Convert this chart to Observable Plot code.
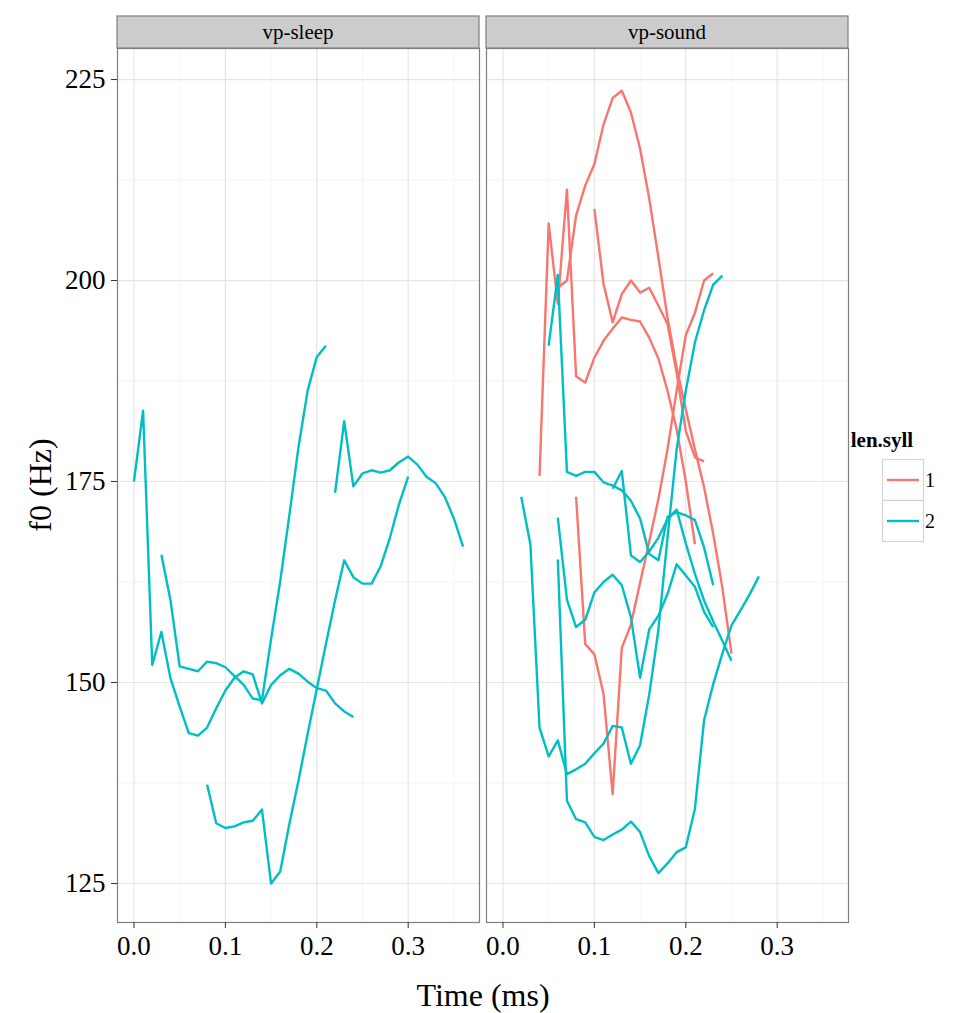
<!DOCTYPE html>
<html><head><meta charset="utf-8">
<script src="https://cdn.jsdelivr.net/npm/d3@7"></script>
<script src="https://cdn.jsdelivr.net/npm/@observablehq/plot@0.6"></script>
<style>
html,body{margin:0;padding:0;background:#fff;}
#chart{position:relative;width:955px;height:1013px;}
</style></head><body><div id="chart"></div>
<script>
// ---- categories / scales ----
const words = ["vp-sleep", "vp-sound"];
const syllables = ["1", "2"];
const colors = ["#F8766D", "#00BFC4"];
const xTicks = [0, 0.1, 0.2, 0.3];
const xMinor = [0.05, 0.15, 0.25, 0.35];
const yTicks = [125, 150, 175, 200, 225];
const yMinor = [137.5, 162.5, 187.5, 212.5];
const step = 0.01; // sampling interval (s)

// ---- f0 contours (Hz), one value per 0.01 s from the start time ----
// vp-sleep, len.syll 2
const sleepA = [175.0, 183.8, 152.2, 156.3, 150.5, 147.0, 143.7, 143.4, 144.4, 146.8, 149.0, 150.6, 151.4, 151.0, 147.4, 149.7, 150.9, 151.7, 151.1, 150.1, 149.3, 149.0, 147.4, 146.4, 145.7];
const sleepB = [165.9, 160.2, 152.0, 151.7, 151.4, 152.6, 152.4, 151.9, 150.8, 149.7, 148.0, 147.8, 155.4, 162.6, 170.8, 179.3, 186.3, 190.5, 191.9];
const sleepC = [137.3, 132.5, 131.9, 132.1, 132.6, 132.8, 134.2, 125.0, 126.5, 132.4, 137.8, 143.6, 149.2, 154.8, 160.2, 165.2, 163.1, 162.3, 162.3, 164.5, 168.0, 172.2, 175.6];
const sleepD = [173.6, 182.5, 174.4, 176.0, 176.4, 176.1, 176.4, 177.4, 178.1, 177.1, 175.6, 174.8, 173.1, 170.4, 166.9];
// vp-sound, len.syll 1
const soundP = [175.7, 207.1, 197.1, 211.3, 188.1, 187.3, 190.4, 192.5, 194.0, 195.4, 195.1, 194.9, 192.9, 190.3, 186.3, 181.5, 175.0, 167.2];
const soundQ = [199.1, 200.0, 208.1, 211.8, 214.5, 219.4, 222.7, 223.6, 220.9, 216.4, 210.2, 202.9, 195.4, 189.2, 184.0, 179.0, 174.3, 168.5, 161.8, 153.6];
const soundS = [208.9, 199.6, 194.8, 198.3, 200.0, 198.5, 199.1, 196.9, 194.6, 188.5, 181.3, 178.0, 177.5];
const soundR = [173.1, 154.8, 153.5, 148.6, 136.1, 154.3, 157.2, 162.4, 167.5, 172.8, 179.0, 186.3, 193.2, 196.0, 200.0, 200.9];
// vp-sound, len.syll 2
const soundC1 = [173.1, 167.2, 144.4, 140.8, 142.8, 138.6, 139.2, 139.9, 141.2, 142.4, 144.6, 144.4, 139.9, 142.2, 148.5, 156.5, 168.0, 179.0, 186.3, 192.3, 196.3, 199.5, 200.6];
const soundC2 = [170.5, 160.3, 156.9, 157.8, 161.2, 162.5, 163.4, 162.1, 158.1, 150.6, 156.6, 158.3, 161.0, 164.7, 163.3, 161.9, 158.8, 156.9];
const soundC3 = [191.9, 200.7, 176.2, 175.7, 176.2, 176.2, 174.9, 174.5, 173.9, 172.6, 170.4, 166.0, 165.2, 170.6, 171.2, 170.8, 170.2, 166.8, 162.1];
const soundC4 = [174.1, 176.3, 165.8, 165.0, 166.3, 168.0, 170.3, 171.5, 167.3, 163.5, 160.2, 157.6, 155.2, 152.7];
const soundC5 = [165.3, 135.3, 133.0, 132.6, 130.8, 130.4, 131.1, 131.7, 132.7, 131.4, 128.4, 126.3, 127.5, 128.9, 129.5, 134.3, 145.3, 149.8, 153.6, 157.1, 159.0, 161.0, 163.2];

// [facet, len.syll, start time, values]
const contours = [
  ["vp-sleep", "2", 0.00, sleepA],
  ["vp-sleep", "2", 0.03, sleepB],
  ["vp-sleep", "2", 0.08, sleepC],
  ["vp-sleep", "2", 0.22, sleepD],
  ["vp-sound", "1", 0.04, soundP],
  ["vp-sound", "1", 0.06, soundQ],
  ["vp-sound", "1", 0.10, soundS],
  ["vp-sound", "1", 0.08, soundR],
  ["vp-sound", "2", 0.02, soundC1],
  ["vp-sound", "2", 0.06, soundC2],
  ["vp-sound", "2", 0.05, soundC3],
  ["vp-sound", "2", 0.12, soundC4],
  ["vp-sound", "2", 0.06, soundC5]
];

const rows = [];
contours.forEach(([word, syll, t0, values], k) => {
  values.forEach((f0, i) => rows.push({id: k, word, syll, time: +(t0 + i * step).toFixed(2), f0}));
});

const FONT = "Liberation Serif, Times New Roman, serif";

const plot = Plot.plot({
  width: 955, height: 1013,
  marginLeft: 117, marginRight: 107, marginTop: 48, marginBottom: 91,
  style: {fontFamily: FONT, background: "#fff", overflow: "visible"},
  fx: {domain: words, padding: 0.019, axis: null, label: null},
  x: {domain: [-0.018, 0.378], label: null},
  y: {domain: [120.15, 228.86], label: null},
  color: {domain: syllables, range: colors},
  marks: [
    Plot.gridX(xMinor, {stroke: "#F5F5F5", strokeOpacity: 1, strokeWidth: 1}),
    Plot.gridY(yMinor, {stroke: "#F5F5F5", strokeOpacity: 1, strokeWidth: 1}),
    Plot.gridX(xTicks, {stroke: "#E5E5E5", strokeOpacity: 1, strokeWidth: 1.2}),
    Plot.gridY(yTicks, {stroke: "#E5E5E5", strokeOpacity: 1, strokeWidth: 1.2}),
    Plot.line(rows, {fx: "word", x: "time", y: "f0", z: "id", stroke: "syll", strokeWidth: 2.4, strokeLinecap: "butt"}),
    Plot.frame({stroke: "#7F7F7F", strokeWidth: 1.2}),
    Plot.axisX(xTicks, {tickFormat: d3.format(".1f"), tickSize: 6, tickPadding: 7, fontSize: 27, label: null, stroke: "#333"}),
    Plot.axisY(yTicks, {tickSize: 6, tickPadding: 6, fontSize: 27, label: null, stroke: "#333"})
  ]
});

document.getElementById("chart").appendChild(plot);

// ---- strips, axis titles, legend ----
const svg = d3.select(plot);
const fx = plot.scale("fx");
const bw = fx.bandwidth;
const strips = svg.append("g");
words.forEach(w => {
  const x0 = fx.apply(w);
  strips.append("rect").attr("x", x0).attr("y", 16).attr("width", bw).attr("height", 32)
    .attr("fill", "#CCCCCC").attr("stroke", "#7F7F7F").attr("stroke-width", 1.2);
  strips.append("text").attr("x", x0 + bw / 2).attr("y", 32).attr("text-anchor", "middle")
    .attr("dominant-baseline", "central").attr("font-family", FONT).attr("font-size", 21)
    .attr("fill", "#000").text(w);
});

svg.append("text").attr("x", 483).attr("y", 995).attr("text-anchor", "middle")
  .attr("dominant-baseline", "central").attr("font-family", FONT).attr("font-size", 32)
  .attr("fill", "#000").text("Time (ms)");
svg.append("text").attr("transform", "translate(40,485) rotate(-90)").attr("text-anchor", "middle")
  .attr("dominant-baseline", "central").attr("font-family", FONT).attr("font-size", 32)
  .attr("fill", "#000").text("f0 (Hz)");

const lg = svg.append("g");
lg.append("text").attr("x", 882).attr("y", 447).attr("font-family", FONT).attr("font-size", 21)
  .attr("font-weight", "bold").attr("fill", "#000").text("len.syll");
syllables.forEach((s, i) => {
  const y0 = 459.5 + i * 41;
  lg.append("rect").attr("x", 882.5).attr("y", y0).attr("width", 41).attr("height", 41)
    .attr("fill", "#fff").attr("stroke", "#D5D5D5").attr("stroke-width", 1.2);
  lg.append("line").attr("x1", 887).attr("x2", 919).attr("y1", y0 + 20.5).attr("y2", y0 + 20.5)
    .attr("stroke", colors[i]).attr("stroke-width", 2.4);
  lg.append("text").attr("x", 930).attr("y", y0 + 20.5).attr("dominant-baseline", "central")
    .attr("font-family", FONT).attr("font-size", 20).attr("fill", "#000").text(s);
});
</script>
</body></html>
